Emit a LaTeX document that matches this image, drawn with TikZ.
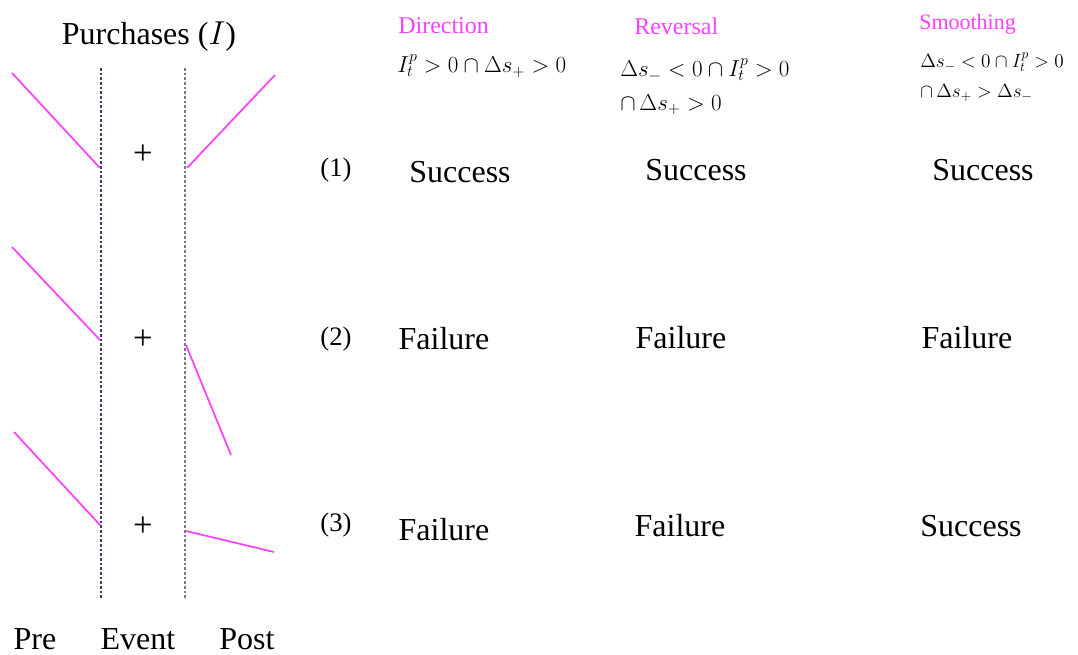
\documentclass[tikz,border=0pt]{standalone}
\usepackage{fontspec}
\setmainfont{Liberation Serif}
\begin{document}
\begin{tikzpicture}[x=0.75pt,y=-0.75pt,
  pinkline/.style={draw=pinkc,line width=1.3pt},
  evline/.style={line width=1pt,dash pattern=on 2pt off 1.5pt},
  lbl/.style={font=\fontsize{24}{28}\selectfont,inner sep=0pt},
  plus/.style={font=\fontsize{26}{28}\selectfont,inner sep=0pt},
  num/.style={font=\fontsize{20}{24}\selectfont,inner sep=0pt},
  hdr/.style={font=\fontsize{18}{20}\selectfont,text=pinkc,inner sep=0pt,anchor=west},
  frm/.style={font=\fontsize{16.5}{19}\selectfont,inner sep=0pt,anchor=west},
  frms/.style={font=\fontsize{14.5}{17}\selectfont,inner sep=0pt,anchor=west}]
\definecolor{pinkc}{RGB}{255,64,255}
\definecolor{navy}{RGB}{60,60,110}
\definecolor{greyd}{RGB}{120,120,140}
\useasboundingbox (0,0) rectangle (1078,655);
% event lines
\coordinate (e1t) at (101,68); \coordinate (e1b) at (101,598);
\coordinate (e2t) at (185,68); \coordinate (e2b) at (185,598);
\draw[evline,draw=navy] (e1t) -- (e1b);
\draw[evline,draw=greyd] (e2t) -- (e2b);
% title
\node[lbl] (title) at (149,37) {Purchases ($I$)};
% row 1
\coordinate (a1) at (12,73); \coordinate (b1) at (100,168);
\coordinate (c1) at (187,168); \coordinate (d1) at (275,75);
\draw[pinkline] (a1) -- (b1);
\draw[pinkline] (c1) -- (d1);
\node[plus] (p1) at (143,155) {+};
% row 2
\coordinate (a2) at (12,247); \coordinate (b2) at (100,340);
\coordinate (c2) at (186,345); \coordinate (d2) at (231,455);
\draw[pinkline] (a2) -- (b2);
\draw[pinkline] (c2) -- (d2);
\node[plus] (p2) at (143,340) {+};
% row 3
\coordinate (a3) at (14,432); \coordinate (b3) at (100,525);
\coordinate (c3) at (186,531); \coordinate (d3) at (274,552);
\draw[pinkline] (a3) -- (b3);
\draw[pinkline] (c3) -- (d3);
\node[plus] (p3) at (143,527) {+};
% bottom labels
\node[lbl,anchor=base] (pre) at (35,649) {Pre};
\node[lbl,anchor=base] (event) at (138,649) {Event};
\node[lbl,anchor=base] (post) at (247,649) {Post};
% row numbers
\node[num] (n1) at (336,170) {(1)};
\node[num] (n2) at (336,339) {(2)};
\node[num] (n3) at (336,525) {(3)};
% headers
\node[hdr] (h1) at (398,26) {Direction};
\node[hdr] (h2) at (634,26) {Reversal};
\node[hdr,font=\fontsize{16.5}{19}\selectfont] (h3) at (919,24) {Smoothing};
% formulas
\node[frm] (f1) at (397,66) {$I_t^p > 0 \cap \Delta s_+ > 0$};
\node[frm] (f2a) at (620,70) {$\Delta s_- < 0 \cap I_t^p > 0$};
\node[frm] (f2b) at (620,105) {$\cap\, \Delta s_+ > 0$};
\node[frms] (f3a) at (920,62) {$\Delta s_- < 0 \cap I_t^p > 0$};
\node[frms] (f3b) at (920,93) {$\cap\, \Delta s_+ > \Delta s_-$};
% outcomes
\node[lbl] (r1c1) at (460,172) {Success};
\node[lbl] (r1c2) at (696,170) {Success};
\node[lbl] (r1c3) at (983,170) {Success};
\node[lbl] (r2c1) at (444,339) {Failure};
\node[lbl] (r2c2) at (681,338) {Failure};
\node[lbl] (r2c3) at (967,338) {Failure};
\node[lbl] (r3c1) at (444,530) {Failure};
\node[lbl] (r3c2) at (680,526) {Failure};
\node[lbl] (r3c3) at (971,526) {Success};
\end{tikzpicture}
\end{document}
